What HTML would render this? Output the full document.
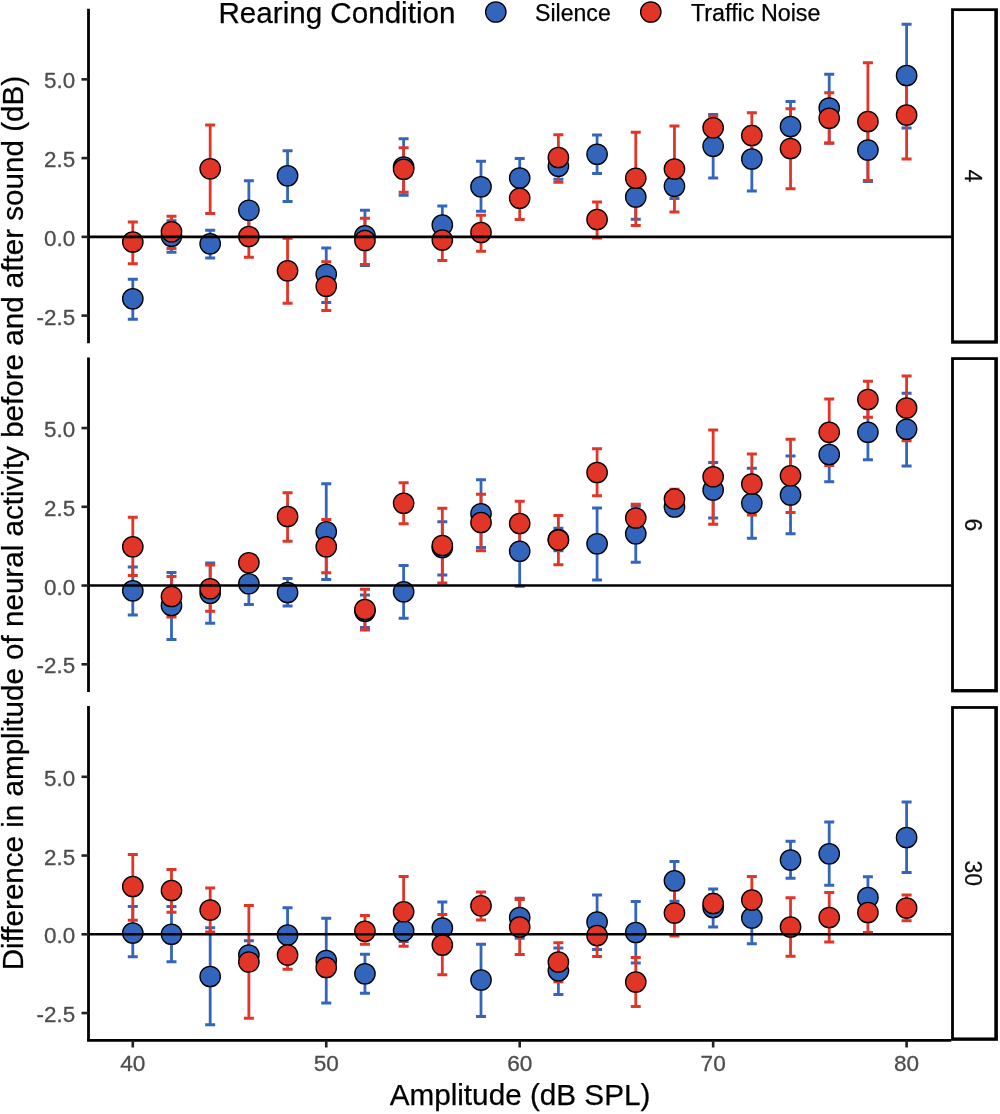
<!DOCTYPE html>
<html lang="en"><head><meta charset="utf-8"><title>Figure</title>
<style>html,body{margin:0;padding:0;background:#fff}svg{display:block}text{font-family:"Liberation Sans",Arial,sans-serif}</style></head><body>
<svg width="1000" height="1114" viewBox="0 0 1000 1114">
<rect width="1000" height="1114" fill="#fff"/>
<text x="218.5" y="22.7" font-size="29.6" fill="#000" stroke="#000" stroke-width="0.25">Rearing Condition</text>
<circle cx="495.8" cy="12" r="10.2" fill="#3465BD" stroke="#000" stroke-width="1.3"/>
<text x="535" y="20.8" font-size="23.1" fill="#000" stroke="#000" stroke-width="0.25">Silence</text>
<circle cx="650.8" cy="12" r="10.2" fill="#E03527" stroke="#000" stroke-width="1.3"/>
<text x="691" y="20.8" font-size="23.3" fill="#000" stroke="#000" stroke-width="0.25">Traffic Noise</text>
<g id="panel1">
<path d="M132.80 279.25V319.25M127.80 279.25h10.0M127.80 319.25h10.0M171.49 220.75V252.25M166.49 220.75h10.0M166.49 252.25h10.0M210.18 230.25V258.0M205.18 230.25h10.0M205.18 258.0h10.0M248.87 180.75V239.75M243.87 180.75h10.0M243.87 239.75h10.0M287.56 150.75V201.5M282.56 150.75h10.0M282.56 201.5h10.0M326.25 248.0V302.5M321.25 248.0h10.0M321.25 302.5h10.0M364.94 210.25V265.5M359.94 210.25h10.0M359.94 265.5h10.0M403.63 138.75V195.25M398.63 138.75h10.0M398.63 195.25h10.0M442.32 206.0V244.0M437.32 206.0h10.0M437.32 244.0h10.0M481.01 161.25V211.25M476.01 161.25h10.0M476.01 211.25h10.0M519.70 158.5V197.5M514.70 158.5h10.0M514.70 197.5h10.0M558.39 153.25V179.25M553.39 153.25h10.0M553.39 179.25h10.0M597.08 135.0V173.5M592.08 135.0h10.0M592.08 173.5h10.0M635.77 174.75V219.25M630.77 174.75h10.0M630.77 219.25h10.0M674.46 174.0V198.5M669.46 174.0h10.0M669.46 198.5h10.0M713.15 114.5V178.0M708.15 114.5h10.0M708.15 178.0h10.0M751.84 127.0V191.0M746.84 127.0h10.0M746.84 191.0h10.0M790.53 101.5V152.0M785.53 101.5h10.0M785.53 152.0h10.0M829.22 74.25V143.0M824.22 74.25h10.0M824.22 143.0h10.0M867.91 118.5V181.5M862.91 118.5h10.0M862.91 181.5h10.0M906.60 24.25V128.0M901.60 24.25h10.0M901.60 128.0h10.0" stroke="#3465BD" stroke-width="2.8" fill="none"/>
<path d="M132.80 222.0V263.75M127.80 222.0h10.0M127.80 263.75h10.0M171.49 216.25V248.5M166.49 216.25h10.0M166.49 248.5h10.0M210.18 125.0V213.5M205.18 125.0h10.0M205.18 213.5h10.0M248.87 215.75V257.25M243.87 215.75h10.0M243.87 257.25h10.0M287.56 238.25V303.25M282.56 238.25h10.0M282.56 303.25h10.0M326.25 261.75V310.5M321.25 261.75h10.0M321.25 310.5h10.0M364.94 218.25V264.5M359.94 218.25h10.0M359.94 264.5h10.0M403.63 147.75V192.25M398.63 147.75h10.0M398.63 192.25h10.0M442.32 219.5V260.5M437.32 219.5h10.0M437.32 260.5h10.0M481.01 215.25V251.25M476.01 215.25h10.0M476.01 251.25h10.0M519.70 177.0V219.5M514.70 177.0h10.0M514.70 219.5h10.0M558.39 134.75V182.25M553.39 134.75h10.0M553.39 182.25h10.0M597.08 202.0V238.0M592.08 202.0h10.0M592.08 238.0h10.0M635.77 132.25V225.5M630.77 132.25h10.0M630.77 225.5h10.0M674.46 126.0V212.0M669.46 126.0h10.0M669.46 212.0h10.0M713.15 116.25V139.25M708.15 116.25h10.0M708.15 139.25h10.0M751.84 112.75V158.25M746.84 112.75h10.0M746.84 158.25h10.0M790.53 108.75V188.75M785.53 108.75h10.0M785.53 188.75h10.0M829.22 92.75V143.25M824.22 92.75h10.0M824.22 143.25h10.0M867.91 62.75V180.5M862.91 62.75h10.0M862.91 180.5h10.0M906.60 71.0V159.0M901.60 71.0h10.0M901.60 159.0h10.0" stroke="#E03527" stroke-width="2.8" fill="none"/>
<g fill="#3465BD" stroke="#000" stroke-width="1.3">
<circle cx="132.80" cy="298.75" r="10.2"/>
<circle cx="171.49" cy="236.25" r="10.2"/>
<circle cx="210.18" cy="243.75" r="10.2"/>
<circle cx="248.87" cy="210.25" r="10.2"/>
<circle cx="287.56" cy="175.75" r="10.2"/>
<circle cx="326.25" cy="274.25" r="10.2"/>
<circle cx="364.94" cy="235.75" r="10.2"/>
<circle cx="403.63" cy="167.0" r="10.2"/>
<circle cx="442.32" cy="225.0" r="10.2"/>
<circle cx="481.01" cy="186.75" r="10.2"/>
<circle cx="519.70" cy="178.0" r="10.2"/>
<circle cx="558.39" cy="166.25" r="10.2"/>
<circle cx="597.08" cy="154.25" r="10.2"/>
<circle cx="635.77" cy="197.0" r="10.2"/>
<circle cx="674.46" cy="186.25" r="10.2"/>
<circle cx="713.15" cy="146.25" r="10.2"/>
<circle cx="751.84" cy="159.0" r="10.2"/>
<circle cx="790.53" cy="126.5" r="10.2"/>
<circle cx="829.22" cy="108.0" r="10.2"/>
<circle cx="867.91" cy="150.0" r="10.2"/>
<circle cx="906.60" cy="75.5" r="10.2"/>
</g>
<g fill="#E03527" stroke="#000" stroke-width="1.3">
<circle cx="132.80" cy="242.0" r="10.2"/>
<circle cx="171.49" cy="231.75" r="10.2"/>
<circle cx="210.18" cy="168.75" r="10.2"/>
<circle cx="248.87" cy="236.5" r="10.2"/>
<circle cx="287.56" cy="270.75" r="10.2"/>
<circle cx="326.25" cy="286.25" r="10.2"/>
<circle cx="364.94" cy="240.5" r="10.2"/>
<circle cx="403.63" cy="169.25" r="10.2"/>
<circle cx="442.32" cy="240.0" r="10.2"/>
<circle cx="481.01" cy="232.5" r="10.2"/>
<circle cx="519.70" cy="198.25" r="10.2"/>
<circle cx="558.39" cy="157.5" r="10.2"/>
<circle cx="597.08" cy="219.5" r="10.2"/>
<circle cx="635.77" cy="178.25" r="10.2"/>
<circle cx="674.46" cy="169.0" r="10.2"/>
<circle cx="713.15" cy="127.75" r="10.2"/>
<circle cx="751.84" cy="135.5" r="10.2"/>
<circle cx="790.53" cy="148.5" r="10.2"/>
<circle cx="829.22" cy="118.25" r="10.2"/>
<circle cx="867.91" cy="121.5" r="10.2"/>
<circle cx="906.60" cy="115.0" r="10.2"/>
</g>
<line x1="88.5" y1="236.85" x2="951.3" y2="236.85" stroke="#000" stroke-width="2.6"/>
<line x1="88.5" y1="8.7" x2="88.5" y2="343.3" stroke="#000" stroke-width="2.8"/>
<line x1="81.5" y1="79.35" x2="88.5" y2="79.35" stroke="#222" stroke-width="2.6"/>
<text x="75.2" y="88.35" font-size="22.4" fill="#4D4D4D" stroke="#4D4D4D" stroke-width="0.3" text-anchor="end">5.0</text>
<line x1="81.5" y1="158.10" x2="88.5" y2="158.10" stroke="#222" stroke-width="2.6"/>
<text x="75.2" y="167.10" font-size="22.4" fill="#4D4D4D" stroke="#4D4D4D" stroke-width="0.3" text-anchor="end">2.5</text>
<line x1="81.5" y1="236.85" x2="88.5" y2="236.85" stroke="#222" stroke-width="2.6"/>
<text x="75.2" y="245.85" font-size="22.4" fill="#4D4D4D" stroke="#4D4D4D" stroke-width="0.3" text-anchor="end">0.0</text>
<line x1="81.5" y1="315.60" x2="88.5" y2="315.60" stroke="#222" stroke-width="2.6"/>
<text x="75.2" y="324.60" font-size="22.4" fill="#4D4D4D" stroke="#4D4D4D" stroke-width="0.3" text-anchor="end">-2.5</text>
<rect x="951.1" y="8.3" width="46.8" height="335.40" fill="#000"/>
<rect x="953.9" y="11.05" width="40.4" height="329.30" fill="#fff"/>
<text transform="translate(965,176.0) rotate(90)" font-size="23" fill="#111" stroke="#111" stroke-width="0.25" text-anchor="middle">4</text>
</g>
<g id="panel2">
<path d="M132.80 567.0V615.0M127.80 567.0h10.0M127.80 615.0h10.0M171.49 572.5V639.5M166.49 572.5h10.0M166.49 639.5h10.0M210.18 563.0V623.25M205.18 563.0h10.0M205.18 623.25h10.0M248.87 563.0V604.5M243.87 563.0h10.0M243.87 604.5h10.0M287.56 578.5V606.0M282.56 578.5h10.0M282.56 606.0h10.0M326.25 483.75V579.5M321.25 483.75h10.0M321.25 579.5h10.0M364.94 595.0V627.5M359.94 595.0h10.0M359.94 627.5h10.0M403.63 565.5V618.25M398.63 565.5h10.0M398.63 618.25h10.0M442.32 521.75V575.0M437.32 521.75h10.0M437.32 575.0h10.0M481.01 479.75V547.5M476.01 479.75h10.0M476.01 547.5h10.0M519.70 516.25V586.25M514.70 516.25h10.0M514.70 586.25h10.0M558.39 528.25V550.75M553.39 528.25h10.0M553.39 550.75h10.0M597.08 508.0V580.0M592.08 508.0h10.0M592.08 580.0h10.0M635.77 506.25V562.25M630.77 506.25h10.0M630.77 562.25h10.0M674.46 499.0V515.0M669.46 499.0h10.0M669.46 515.0h10.0M713.15 462.5V518.0M708.15 462.5h10.0M708.15 518.0h10.0M751.84 468.25V538.25M746.84 468.25h10.0M746.84 538.25h10.0M790.53 456.0V533.75M785.53 456.0h10.0M785.53 533.75h10.0M829.22 427.25V481.75M824.22 427.25h10.0M824.22 481.75h10.0M867.91 407.5V459.75M862.91 407.5h10.0M862.91 459.75h10.0M906.60 393.25V466.0M901.60 393.25h10.0M901.60 466.0h10.0" stroke="#3465BD" stroke-width="2.8" fill="none"/>
<path d="M132.80 517.25V575.5M127.80 517.25h10.0M127.80 575.5h10.0M171.49 576.5V617.0M166.49 576.5h10.0M166.49 617.0h10.0M210.18 565.0V611.25M205.18 565.0h10.0M205.18 611.25h10.0M248.87 554.75V570.75M243.87 554.75h10.0M243.87 570.75h10.0M287.56 492.75V541.25M282.56 492.75h10.0M282.56 541.25h10.0M326.25 519.5V572.75M321.25 519.5h10.0M321.25 572.75h10.0M364.94 589.25V630.0M359.94 589.25h10.0M359.94 630.0h10.0M403.63 482.75V523.75M398.63 482.75h10.0M398.63 523.75h10.0M442.32 508.25V583.0M437.32 508.25h10.0M437.32 583.0h10.0M481.01 494.25V550.75M476.01 494.25h10.0M476.01 550.75h10.0M519.70 501.25V545.75M514.70 501.25h10.0M514.70 545.75h10.0M558.39 515.5V564.75M553.39 515.5h10.0M553.39 564.75h10.0M597.08 448.75V495.75M592.08 448.75h10.0M592.08 495.75h10.0M635.77 504.25V531.75M630.77 504.25h10.0M630.77 531.75h10.0M674.46 489.25V508.75M669.46 489.25h10.0M669.46 508.75h10.0M713.15 430.0V524.25M708.15 430.0h10.0M708.15 524.25h10.0M751.84 454.0V515.0M746.84 454.0h10.0M746.84 515.0h10.0M790.53 439.25V512.5M785.53 439.25h10.0M785.53 512.5h10.0M829.22 399.0V465.5M824.22 399.0h10.0M824.22 465.5h10.0M867.91 381.25V417.25M862.91 381.25h10.0M862.91 417.25h10.0M906.60 376.0V440.75M901.60 376.0h10.0M901.60 440.75h10.0" stroke="#E03527" stroke-width="2.8" fill="none"/>
<g fill="#3465BD" stroke="#000" stroke-width="1.3">
<circle cx="132.80" cy="590.75" r="10.2"/>
<circle cx="171.49" cy="605.5" r="10.2"/>
<circle cx="210.18" cy="593.25" r="10.2"/>
<circle cx="248.87" cy="583.75" r="10.2"/>
<circle cx="287.56" cy="592.5" r="10.2"/>
<circle cx="326.25" cy="531.75" r="10.2"/>
<circle cx="364.94" cy="611.25" r="10.2"/>
<circle cx="403.63" cy="591.75" r="10.2"/>
<circle cx="442.32" cy="547.5" r="10.2"/>
<circle cx="481.01" cy="513.75" r="10.2"/>
<circle cx="519.70" cy="551.25" r="10.2"/>
<circle cx="558.39" cy="539.5" r="10.2"/>
<circle cx="597.08" cy="543.75" r="10.2"/>
<circle cx="635.77" cy="533.75" r="10.2"/>
<circle cx="674.46" cy="507.0" r="10.2"/>
<circle cx="713.15" cy="490.0" r="10.2"/>
<circle cx="751.84" cy="503.25" r="10.2"/>
<circle cx="790.53" cy="495.0" r="10.2"/>
<circle cx="829.22" cy="454.5" r="10.2"/>
<circle cx="867.91" cy="432.25" r="10.2"/>
<circle cx="906.60" cy="429.25" r="10.2"/>
</g>
<g fill="#E03527" stroke="#000" stroke-width="1.3">
<circle cx="132.80" cy="546.75" r="10.2"/>
<circle cx="171.49" cy="596.5" r="10.2"/>
<circle cx="210.18" cy="588.75" r="10.2"/>
<circle cx="248.87" cy="562.75" r="10.2"/>
<circle cx="287.56" cy="516.5" r="10.2"/>
<circle cx="326.25" cy="546.75" r="10.2"/>
<circle cx="364.94" cy="609.5" r="10.2"/>
<circle cx="403.63" cy="503.25" r="10.2"/>
<circle cx="442.32" cy="545.5" r="10.2"/>
<circle cx="481.01" cy="522.5" r="10.2"/>
<circle cx="519.70" cy="523.5" r="10.2"/>
<circle cx="558.39" cy="540.0" r="10.2"/>
<circle cx="597.08" cy="472.5" r="10.2"/>
<circle cx="635.77" cy="518.0" r="10.2"/>
<circle cx="674.46" cy="499.0" r="10.2"/>
<circle cx="713.15" cy="476.75" r="10.2"/>
<circle cx="751.84" cy="484.0" r="10.2"/>
<circle cx="790.53" cy="475.75" r="10.2"/>
<circle cx="829.22" cy="432.25" r="10.2"/>
<circle cx="867.91" cy="399.5" r="10.2"/>
<circle cx="906.60" cy="408.0" r="10.2"/>
</g>
<line x1="88.5" y1="585.55" x2="951.3" y2="585.55" stroke="#000" stroke-width="2.6"/>
<line x1="88.5" y1="357.5" x2="88.5" y2="692.1" stroke="#000" stroke-width="2.8"/>
<line x1="81.5" y1="428.05" x2="88.5" y2="428.05" stroke="#222" stroke-width="2.6"/>
<text x="75.2" y="437.05" font-size="22.4" fill="#4D4D4D" stroke="#4D4D4D" stroke-width="0.3" text-anchor="end">5.0</text>
<line x1="81.5" y1="506.80" x2="88.5" y2="506.80" stroke="#222" stroke-width="2.6"/>
<text x="75.2" y="515.80" font-size="22.4" fill="#4D4D4D" stroke="#4D4D4D" stroke-width="0.3" text-anchor="end">2.5</text>
<line x1="81.5" y1="585.55" x2="88.5" y2="585.55" stroke="#222" stroke-width="2.6"/>
<text x="75.2" y="594.55" font-size="22.4" fill="#4D4D4D" stroke="#4D4D4D" stroke-width="0.3" text-anchor="end">0.0</text>
<line x1="81.5" y1="664.30" x2="88.5" y2="664.30" stroke="#222" stroke-width="2.6"/>
<text x="75.2" y="673.30" font-size="22.4" fill="#4D4D4D" stroke="#4D4D4D" stroke-width="0.3" text-anchor="end">-2.5</text>
<rect x="951.1" y="357.2" width="46.8" height="335.20" fill="#000"/>
<rect x="953.9" y="359.95" width="40.4" height="329.10" fill="#fff"/>
<text transform="translate(965,524.8) rotate(90)" font-size="23" fill="#111" stroke="#111" stroke-width="0.25" text-anchor="middle">6</text>
</g>
<g id="panel3">
<path d="M132.80 906.5V956.75M127.80 906.5h10.0M127.80 956.75h10.0M171.49 906.5V961.75M166.49 906.5h10.0M166.49 961.75h10.0M210.18 927.75V1024.75M205.18 927.75h10.0M205.18 1024.75h10.0M248.87 940.75V969.25M243.87 940.75h10.0M243.87 969.25h10.0M287.56 907.75V962.25M282.56 907.75h10.0M282.56 962.25h10.0M326.25 918.25V1003.0M321.25 918.25h10.0M321.25 1003.0h10.0M364.94 954.25V993.25M359.94 954.25h10.0M359.94 993.25h10.0M403.63 920.0V941.5M398.63 920.0h10.0M398.63 941.5h10.0M442.32 902.0V954.0M437.32 902.0h10.0M437.32 954.0h10.0M481.01 944.25V1016.5M476.01 944.25h10.0M476.01 1016.5h10.0M519.70 898.25V938.25M514.70 898.25h10.0M514.70 938.25h10.0M558.39 948.0V994.5M553.39 948.0h10.0M553.39 994.5h10.0M597.08 895.0V949.5M592.08 895.0h10.0M592.08 949.5h10.0M635.77 901.5V963.0M630.77 901.5h10.0M630.77 963.0h10.0M674.46 861.5V901.25M669.46 861.5h10.0M669.46 901.25h10.0M713.15 889.0V927.0M708.15 889.0h10.0M708.15 927.0h10.0M751.84 892.25V943.75M746.84 892.25h10.0M746.84 943.75h10.0M790.53 841.25V878.25M785.53 841.25h10.0M785.53 878.25h10.0M829.22 822.0V885.25M824.22 822.0h10.0M824.22 885.25h10.0M867.91 876.75V918.25M862.91 876.75h10.0M862.91 918.25h10.0M906.60 802.0V872.5M901.60 802.0h10.0M901.60 872.5h10.0" stroke="#3465BD" stroke-width="2.8" fill="none"/>
<path d="M132.80 854.5V920.25M127.80 854.5h10.0M127.80 920.25h10.0M171.49 869.5V912.25M166.49 869.5h10.0M166.49 912.25h10.0M210.18 888.0V932.0M205.18 888.0h10.0M205.18 932.0h10.0M248.87 905.5V1018.25M243.87 905.5h10.0M243.87 1018.25h10.0M287.56 940.75V969.25M282.56 940.75h10.0M282.56 969.25h10.0M326.25 958.5V976.5M321.25 958.5h10.0M321.25 976.5h10.0M364.94 915.5V944.25M359.94 915.5h10.0M359.94 944.25h10.0M403.63 876.5V946.25M398.63 876.5h10.0M398.63 946.25h10.0M442.32 914.5V974.75M437.32 914.5h10.0M437.32 974.75h10.0M481.01 892.0V920.0M476.01 892.0h10.0M476.01 920.0h10.0M519.70 899.5V954.5M514.70 899.5h10.0M514.70 954.5h10.0M558.39 942.75V981.75M553.39 942.75h10.0M553.39 981.75h10.0M597.08 914.5V956.5M592.08 914.5h10.0M592.08 956.5h10.0M635.77 957.5V1006.5M630.77 957.5h10.0M630.77 1006.5h10.0M674.46 890.0V936.0M669.46 890.0h10.0M669.46 936.0h10.0M713.15 894.5V912.5M708.15 894.5h10.0M708.15 912.5h10.0M751.84 876.5V923.5M746.84 876.5h10.0M746.84 923.5h10.0M790.53 897.75V956.25M785.53 897.75h10.0M785.53 956.25h10.0M829.22 892.5V942.0M824.22 892.5h10.0M824.22 942.0h10.0M867.91 892.5V932.5M862.91 892.5h10.0M862.91 932.5h10.0M906.60 895.0V920.75M901.60 895.0h10.0M901.60 920.75h10.0" stroke="#E03527" stroke-width="2.8" fill="none"/>
<g fill="#3465BD" stroke="#000" stroke-width="1.3">
<circle cx="132.80" cy="933.0" r="10.2"/>
<circle cx="171.49" cy="934.25" r="10.2"/>
<circle cx="210.18" cy="976.5" r="10.2"/>
<circle cx="248.87" cy="955.0" r="10.2"/>
<circle cx="287.56" cy="935.0" r="10.2"/>
<circle cx="326.25" cy="960.5" r="10.2"/>
<circle cx="364.94" cy="973.75" r="10.2"/>
<circle cx="403.63" cy="930.75" r="10.2"/>
<circle cx="442.32" cy="928.0" r="10.2"/>
<circle cx="481.01" cy="980.0" r="10.2"/>
<circle cx="519.70" cy="917.5" r="10.2"/>
<circle cx="558.39" cy="970.75" r="10.2"/>
<circle cx="597.08" cy="922.0" r="10.2"/>
<circle cx="635.77" cy="932.5" r="10.2"/>
<circle cx="674.46" cy="880.75" r="10.2"/>
<circle cx="713.15" cy="907.5" r="10.2"/>
<circle cx="751.84" cy="918.0" r="10.2"/>
<circle cx="790.53" cy="860.0" r="10.2"/>
<circle cx="829.22" cy="853.75" r="10.2"/>
<circle cx="867.91" cy="897.5" r="10.2"/>
<circle cx="906.60" cy="837.5" r="10.2"/>
</g>
<g fill="#E03527" stroke="#000" stroke-width="1.3">
<circle cx="132.80" cy="886.5" r="10.2"/>
<circle cx="171.49" cy="890.5" r="10.2"/>
<circle cx="210.18" cy="910.0" r="10.2"/>
<circle cx="248.87" cy="962.0" r="10.2"/>
<circle cx="287.56" cy="955.0" r="10.2"/>
<circle cx="326.25" cy="967.5" r="10.2"/>
<circle cx="364.94" cy="931.25" r="10.2"/>
<circle cx="403.63" cy="911.75" r="10.2"/>
<circle cx="442.32" cy="945.0" r="10.2"/>
<circle cx="481.01" cy="905.75" r="10.2"/>
<circle cx="519.70" cy="927.0" r="10.2"/>
<circle cx="558.39" cy="962.0" r="10.2"/>
<circle cx="597.08" cy="935.5" r="10.2"/>
<circle cx="635.77" cy="982.0" r="10.2"/>
<circle cx="674.46" cy="913.0" r="10.2"/>
<circle cx="713.15" cy="903.5" r="10.2"/>
<circle cx="751.84" cy="900.0" r="10.2"/>
<circle cx="790.53" cy="927.0" r="10.2"/>
<circle cx="829.22" cy="917.5" r="10.2"/>
<circle cx="867.91" cy="912.5" r="10.2"/>
<circle cx="906.60" cy="908.0" r="10.2"/>
</g>
<line x1="88.5" y1="934.3" x2="951.3" y2="934.3" stroke="#000" stroke-width="2.6"/>
<line x1="88.5" y1="706.0" x2="88.5" y2="1040.6" stroke="#000" stroke-width="2.8"/>
<line x1="81.5" y1="776.80" x2="88.5" y2="776.80" stroke="#222" stroke-width="2.6"/>
<text x="75.2" y="785.80" font-size="22.4" fill="#4D4D4D" stroke="#4D4D4D" stroke-width="0.3" text-anchor="end">5.0</text>
<line x1="81.5" y1="855.55" x2="88.5" y2="855.55" stroke="#222" stroke-width="2.6"/>
<text x="75.2" y="864.55" font-size="22.4" fill="#4D4D4D" stroke="#4D4D4D" stroke-width="0.3" text-anchor="end">2.5</text>
<line x1="81.5" y1="934.30" x2="88.5" y2="934.30" stroke="#222" stroke-width="2.6"/>
<text x="75.2" y="943.30" font-size="22.4" fill="#4D4D4D" stroke="#4D4D4D" stroke-width="0.3" text-anchor="end">0.0</text>
<line x1="81.5" y1="1013.05" x2="88.5" y2="1013.05" stroke="#222" stroke-width="2.6"/>
<text x="75.2" y="1022.05" font-size="22.4" fill="#4D4D4D" stroke="#4D4D4D" stroke-width="0.3" text-anchor="end">-2.5</text>
<rect x="951.1" y="706.1" width="46.8" height="334.70" fill="#000"/>
<rect x="953.9" y="708.85" width="40.4" height="328.60" fill="#fff"/>
<text transform="translate(965,873.3) rotate(90)" font-size="23" fill="#111" stroke="#111" stroke-width="0.25" text-anchor="middle">30</text>
</g>
<line x1="87.1" y1="1040.45" x2="951.3" y2="1040.45" stroke="#000" stroke-width="2.8"/>
<line x1="132.80" y1="1040.45" x2="132.80" y2="1047.5" stroke="#222" stroke-width="2.6"/>
<text x="132.80" y="1071.0" font-size="22.6" fill="#4D4D4D" stroke="#4D4D4D" stroke-width="0.3" text-anchor="middle">40</text>
<line x1="326.25" y1="1040.45" x2="326.25" y2="1047.5" stroke="#222" stroke-width="2.6"/>
<text x="326.25" y="1071.0" font-size="22.6" fill="#4D4D4D" stroke="#4D4D4D" stroke-width="0.3" text-anchor="middle">50</text>
<line x1="519.70" y1="1040.45" x2="519.70" y2="1047.5" stroke="#222" stroke-width="2.6"/>
<text x="519.70" y="1071.0" font-size="22.6" fill="#4D4D4D" stroke="#4D4D4D" stroke-width="0.3" text-anchor="middle">60</text>
<line x1="713.15" y1="1040.45" x2="713.15" y2="1047.5" stroke="#222" stroke-width="2.6"/>
<text x="713.15" y="1071.0" font-size="22.6" fill="#4D4D4D" stroke="#4D4D4D" stroke-width="0.3" text-anchor="middle">70</text>
<line x1="906.60" y1="1040.45" x2="906.60" y2="1047.5" stroke="#222" stroke-width="2.6"/>
<text x="906.60" y="1071.0" font-size="22.6" fill="#4D4D4D" stroke="#4D4D4D" stroke-width="0.3" text-anchor="middle">80</text>
<text x="520" y="1105" font-size="29.7" fill="#000" stroke="#000" stroke-width="0.25" text-anchor="middle">Amplitude (dB SPL)</text>
<text transform="translate(23,523.1) rotate(-90)" font-size="29.6" fill="#000" stroke="#000" stroke-width="0.25" text-anchor="middle">Difference in amplitude of neural activity before and after sound (dB)</text>
</svg></body></html>
